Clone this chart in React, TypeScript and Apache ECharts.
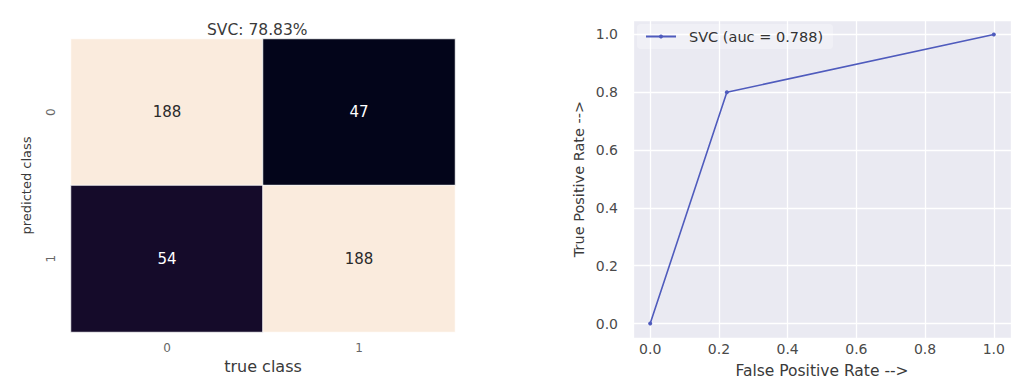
import React, { useEffect, useRef } from "react";
import * as echarts from "echarts";

// ---- data ----
const classLabels = ["0", "1"];
// rows: predicted class, columns: true class
const confusionRows = [
  [188, 47],
  [54, 188],
];
const accuracyTitle = "SVC: 78.83%";
const rocFpr = [0, 0.2231, 1];
const rocTpr = [0, 0.8, 1];
const rocLegend = "SVC (auc = 0.788)";
const rocketColors = [
  "#03051a", "#28123a", "#4c1d4b", "#701f57", "#961c5b", "#cb1b4f",
  "#e83f3f", "#f06043", "#f4875e", "#f6b48e", "#faebdd",
];

const FONT = "DejaVu Sans";

export default function App() {
  const ref = useRef<HTMLDivElement>(null);

  useEffect(() => {
    document.body.style.margin = "0";
    if (!ref.current) return;
    const chart = echarts.init(ref.current, undefined, { renderer: "svg" });

    const flat: number[] = [];
    confusionRows.forEach((r) => r.forEach((v) => flat.push(v)));
    const vMin = Math.min(...flat);
    const vMax = Math.max(...flat);
    const mid = (vMin + vMax) / 2;

    const heatData: any[] = [];
    confusionRows.forEach((row, yi) =>
      row.forEach((v, xi) => {
        heatData.push({
          value: [xi, yi, v],
          label: { color: v > mid ? "#2a2a2a" : "#ffffff" },
        });
      })
    );

    const rocData = rocFpr.map((x, i) => [x, rocTpr[i]]);

    chart.setOption({
      animation: false,
      textStyle: { fontFamily: FONT },
      title: {
        text: accuracyTitle,
        left: 207,
        top: 22,
        padding: 0,
        textStyle: { fontFamily: FONT, fontSize: 15.5, fontWeight: "normal", color: "#3a3a3a" },
      },
      grid: [
        { left: 71, right: 556, top: 39, bottom: 53 },
        {
          left: 633,
          right: 0,
          top: 20,
          bottom: 47,
          show: true,
          backgroundColor: "#eaeaf2",
          borderWidth: 0,
        },
      ],
      xAxis: [
        {
          gridIndex: 0,
          type: "category",
          data: classLabels,
          name: "true class",
          nameLocation: "middle",
          nameGap: 25,
          nameTextStyle: { fontFamily: FONT, fontSize: 16, color: "#3a3a3a" },
          axisLine: { show: false },
          axisTick: { show: false },
          splitLine: { show: false },
          axisLabel: { margin: 10, fontSize: 12, color: "#666", fontFamily: FONT },
        },
        {
          gridIndex: 1,
          type: "value",
          min: -0.05,
          max: 1.05,
          splitNumber: 5,
          name: "False Positive Rate -->",
          nameLocation: "middle",
          nameGap: 25,
          nameTextStyle: { fontFamily: FONT, fontSize: 15.5, color: "#3a3a3a" },
          axisLine: { show: false },
          axisTick: { show: false },
          splitLine: { show: true, lineStyle: { color: "#ffffff", width: 1.3 } },
          axisLabel: {
            margin: 4,
            fontSize: 14,
            color: "#4a4a4a",
            fontFamily: FONT,
            showMinLabel: false,
            showMaxLabel: false,
            formatter: (v: number) => v.toFixed(1),
          },
        },
      ],
      yAxis: [
        {
          gridIndex: 0,
          type: "category",
          data: classLabels,
          inverse: true,
          name: "predicted class",
          nameLocation: "middle",
          nameRotate: 90,
          nameGap: 38,
          nameTextStyle: { fontFamily: FONT, fontSize: 13, color: "#3a3a3a" },
          axisLine: { show: false },
          axisTick: { show: false },
          splitLine: { show: false },
          axisLabel: { margin: 14, fontSize: 12, color: "#666", rotate: 90, fontFamily: FONT },
        },
        {
          gridIndex: 1,
          type: "value",
          min: -0.05,
          max: 1.05,
          splitNumber: 5,
          name: "True Positive Rate -->",
          nameLocation: "middle",
          nameRotate: 90,
          nameGap: 47,
          nameTextStyle: { fontFamily: FONT, fontSize: 14.5, color: "#3a3a3a" },
          axisLine: { show: false },
          axisTick: { show: false },
          splitLine: { show: true, lineStyle: { color: "#ffffff", width: 1.3 } },
          axisLabel: {
            margin: 15,
            fontSize: 14,
            color: "#4a4a4a",
            fontFamily: FONT,
            showMinLabel: false,
            showMaxLabel: false,
            formatter: (v: number) => v.toFixed(1),
          },
        },
      ],
      visualMap: {
        show: false,
        seriesIndex: 0,
        dimension: 2,
        min: vMin,
        max: vMax,
        inRange: { color: rocketColors },
      },
      legend: {
        data: [rocLegend],
        left: 637,
        top: 24,
        padding: [5, 10, 5, 8],
        itemWidth: 30,
        itemHeight: 5,
        backgroundColor: "rgba(255,255,255,0.3)",
        borderRadius: 4,
        textStyle: { fontFamily: FONT, fontSize: 14.5, color: "#333", padding: [0, 0, 0, 8] },
      },
      series: [
        {
          type: "heatmap",
          xAxisIndex: 0,
          yAxisIndex: 0,
          data: heatData,
          itemStyle: { borderColor: "#ffffff", borderWidth: 0.8 },
          label: { show: true, fontFamily: FONT, fontSize: 15 },
          emphasis: { disabled: true },
        },
        {
          type: "line",
          name: rocLegend,
          xAxisIndex: 1,
          yAxisIndex: 1,
          data: rocData,
          symbol: "circle",
          symbolSize: 4,
          showSymbol: true,
          lineStyle: { color: "#4f5bbd", width: 1.6 },
          itemStyle: { color: "#4f5bbd" },
        },
      ],
    });

    return () => chart.dispose();
  }, []);

  return <div ref={ref} style={{ width: 1011, height: 385 }} />;
}
